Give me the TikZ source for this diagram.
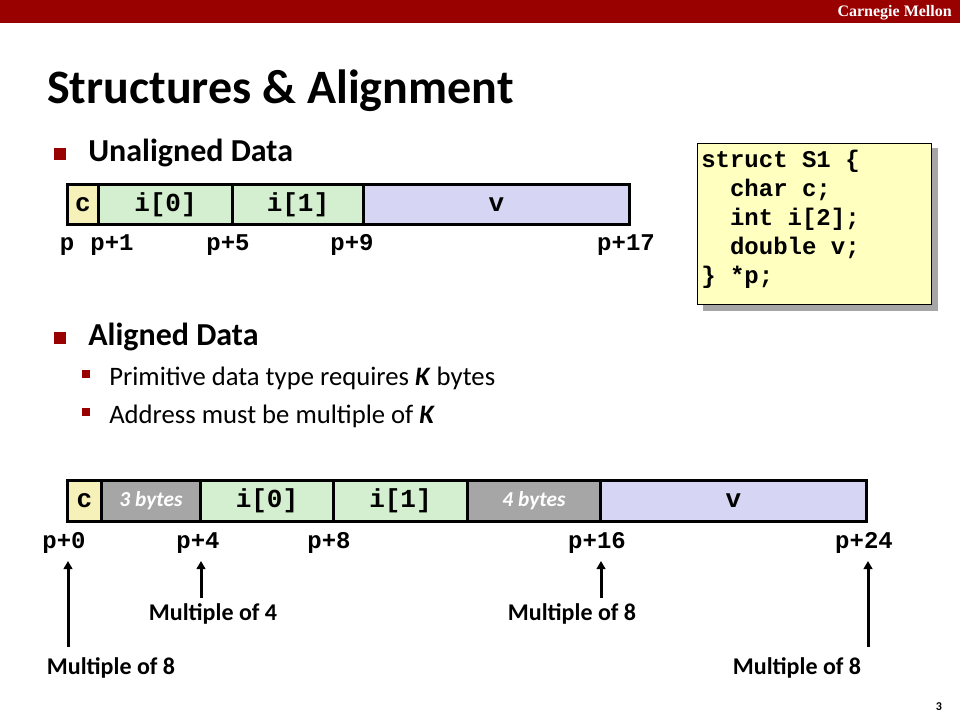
\documentclass[tikz,border=0pt]{standalone}
\usepackage{fontspec}
\setmainfont{Carlito}
\setmonofont{Liberation Mono}
\newfontfamily\serifb{Liberation Serif}
\usetikzlibrary{arrows.meta}
\definecolor{hdr}{HTML}{990000}
\definecolor{cellc}{HTML}{F6F1B8}
\definecolor{cellg}{HTML}{D3EFD0}
\definecolor{cellv}{HTML}{D6D6F4}
\definecolor{cellp}{HTML}{A6A6A6}
\definecolor{codebg}{HTML}{FFFFBF}
\tikzset{
  cell/.style={draw=black,line width=2.25pt,inner sep=0pt,font=\fontsize{19.5}{22}\selectfont\ttfamily\bfseries},
  addr/.style={inner sep=0pt,anchor=base,font=\fontsize{18}{20}\selectfont\ttfamily\bfseries},
  padtxt/.style={text=white,font=\fontsize{16}{18}\selectfont\bfseries\itshape},
  mult/.style={inner sep=0pt,anchor=base,font=\fontsize{18}{20}\selectfont\bfseries},
  up/.style={-{Triangle[length=6pt,width=6.5pt]},line width=2.25pt,black},
  bigb/.style={fill=hdr,minimum size=9.5pt,inner sep=0pt},
  smallb/.style={fill=hdr,minimum size=6.2pt,inner sep=0pt},
  head/.style={anchor=base west,inner sep=0pt,font=\fontsize{24}{28}\selectfont\bfseries},
  sub/.style={anchor=base west,inner sep=0pt,font=\fontsize{20}{24}\selectfont},
}
\newcommand{\cellbox}[7]{% name,x1,y1,x2,y2,fill,text
  \node[cell,fill=#6,anchor=north west,minimum width=#4*0.75pt-#2*0.75pt,minimum height=#5*0.75pt-#3*0.75pt] (#1) at (#2-1,#3-1) {#7};}
\begin{document}
\begin{tikzpicture}[x=0.75pt,y=-0.75pt]
\useasboundingbox (0,0) rectangle (960,720);
\fill[white] (0,0) rectangle (960,720);
\fill[hdr] (0,0) rectangle (960,23);
\node[anchor=base east,inner sep=0pt,text=white,font=\fontsize{12}{14}\selectfont\serifb\bfseries] (cmu) at (952,17) {Carnegie Mellon};
\node[anchor=base west,inner sep=0pt,font=\fontsize{36}{40}\selectfont\bfseries] (title) at (47,104) {Structures \& Alignment};
% bullets
\node[bigb] (b1) at (60,154) {};
\node[head] (h1) at (88,162) {Unaligned Data};
\node[bigb] (b2) at (60,338) {};
\node[head] (h2) at (88,345) {Aligned Data};
\node[smallb] (b3) at (86,374) {};
\node[sub] (s1) at (109,385) {Primitive data type requires \textbf{\textit{K}} bytes};
\node[smallb] (b4) at (86,412) {};
\node[sub] (s2) at (109,423) {Address must be multiple of \textbf{\textit{K}}};
% unaligned
\cellbox{ua}{67}{184}{98}{224}{cellc}{c}
\cellbox{ub}{98}{184}{232}{224}{cellg}{i[0]}
\cellbox{uc}{232}{184}{363}{224}{cellg}{i[1]}
\cellbox{ud}{363}{184}{629}{224}{cellv}{v}
\node[addr] (lp) at (67,251) {p};
\node[addr] (lp1) at (112,251) {p+1};
\node[addr] (lp5) at (228,251) {p+5};
\node[addr] (lp9) at (352,251) {p+9};
\node[addr] (lp17) at (626,251) {p+17};
% code
\fill[black!35] (703,148) rectangle (938,311);
\node[draw=black,line width=0.75pt,fill=codebg,anchor=north west,minimum width=175.5pt,minimum height=120.5pt,inner sep=0pt] (code) at (697,143) {};
\foreach \t/\yy/\n in {{struct S1 \{}/160/a,{\ \ char c;}/189/b,{\ \ int i[2];}/218/c,{\ \ double v;}/247/d,{\} *p;}/276/e}{
  \node[anchor=base west,inner sep=0pt,font=\fontsize{18}{20}\selectfont\ttfamily\bfseries] (code\n) at (701,\yy+8) {\t};
}
% aligned
\cellbox{aa}{67}{480}{101}{521}{cellc}{c}
\node[cell,fill=cellp,anchor=north west,minimum width=74.25pt,minimum height=30.75pt,padtxt] (ab) at (100,479) {3 bytes};
\cellbox{ac}{200}{480}{333}{521}{cellg}{i[0]}
\cellbox{ad}{333}{480}{467}{521}{cellg}{i[1]}
\node[cell,fill=cellp,anchor=north west,minimum width=99.75pt,minimum height=30.75pt,padtxt] (ae) at (466,479) {4 bytes};
\cellbox{af}{600}{480}{866}{521}{cellv}{v}
\node[addr] (a0) at (64,548) {p+0};
\node[addr] (a4) at (198,548) {p+4};
\node[addr] (a8) at (329,548) {p+8};
\node[addr] (a16) at (597,548) {p+16};
\node[addr] (a24) at (864,548) {p+24};
% arrows
\coordinate (t0) at (68,561); \coordinate (f0) at (68,647);
\coordinate (t4) at (201,561); \coordinate (f4) at (201,598);
\coordinate (t16) at (601,561); \coordinate (f16) at (601,598);
\coordinate (t24) at (868,561); \coordinate (f24) at (868,647);
\draw[up] (f0) -- (t0);
\draw[up] (f4) -- (t4);
\draw[up] (f16) -- (t16);
\draw[up] (f24) -- (t24);
\node[mult] (m4) at (213,620) {Multiple of 4};
\node[mult] (m16) at (572,620) {Multiple of 8};
\node[mult] (m0) at (111,674) {Multiple of 8};
\node[mult] (m24) at (797,674) {Multiple of 8};
\node[inner sep=0pt,font=\fontsize{9}{10}\selectfont\bfseries] (pg) at (939,707) {3};
\end{tikzpicture}
\end{document}
